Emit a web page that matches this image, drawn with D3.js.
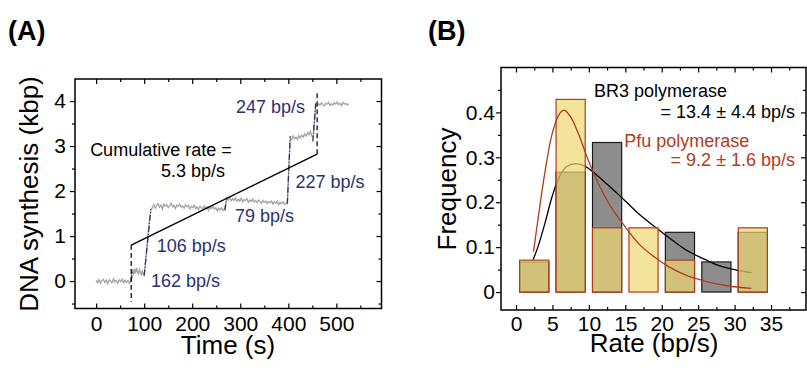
<!DOCTYPE html>
<html>
<head>
<meta charset="utf-8">
<script src="https://cdn.jsdelivr.net/npm/d3@7"></script>
<style>
  body { margin: 0; background: #fff; }
  svg { display: block; font-family: "Liberation Sans", Arial, sans-serif; }
</style>
</head>
<body>
<svg id="chart" width="807" height="370"></svg>
<script>
// ---------- Panel A data: single-molecule trace (time in s, DNA in kbp) ----------
const trace = [
  [0,0.02],[3,-0.04],[6,0.03],[9,-0.05],[12,0.01],[15,0.04],[18,-0.03],[21,0.02],[24,-0.06],[27,0.03],
  [30,0.00],[33,-0.04],[36,0.05],[39,-0.02],[42,0.01],[45,-0.05],[48,0.03],[51,-0.01],[54,0.04],[57,-0.04],
  [60,0.02],[63,-0.03],[66,0.01],[69,-0.05],[72,-0.01],[74,0.18],
  [76,0.24],[78,0.14],[80,0.27],[82,0.17],[84,0.30],[86,0.20],[88,0.16],[90,0.26],[92,0.19],[94,0.14],
  [96,0.22],[98,0.15],[100,0.13],[104,0.55],[108,1.05],[112,1.45],[114,1.58],
  [117,1.63],[120,1.70],[123,1.62],[126,1.68],[129,1.72],[132,1.64],[135,1.69],[138,1.60],[141,1.71],[144,1.66],
  [147,1.70],[150,1.63],[153,1.67],[156,1.73],[159,1.65],[162,1.68],[165,1.61],[168,1.69],[171,1.66],[174,1.71],
  [177,1.64],[180,1.67],[183,1.62],[186,1.70],[189,1.65],[192,1.68],[195,1.60],[198,1.66],[201,1.63],[204,1.69],
  [207,1.61],[210,1.65],[213,1.58],[216,1.66],[219,1.63],[222,1.60],[225,1.67],[228,1.62],[231,1.65],[234,1.57],
  [237,1.64],[240,1.61],[243,1.66],[246,1.60],[249,1.63],[252,1.56],[255,1.62],[258,1.58],[261,1.63],[264,1.57],
  [267,1.60],[270,1.72],[272,1.84],
  [275,1.80],[278,1.86],[281,1.78],[284,1.83],[287,1.79],[290,1.85],[293,1.77],[296,1.82],[299,1.78],[302,1.84],
  [305,1.76],[308,1.81],[311,1.79],[314,1.83],[317,1.75],[320,1.80],[323,1.77],[326,1.82],[329,1.76],[332,1.79],
  [335,1.74],[338,1.80],[341,1.77],[344,1.73],[347,1.79],[350,1.75],[353,1.78],[356,1.72],[359,1.77],[362,1.74],
  [365,1.78],[368,1.71],[371,1.76],[374,1.73],[377,1.77],[380,1.70],[383,1.75],[386,1.72],[389,1.76],[392,1.70],
  [395,1.73],[398,1.72],[401,2.50],[404,3.18],
  [407,3.14],[410,3.22],[413,3.16],[416,3.20],[419,3.15],[422,3.23],[425,3.18],[428,3.24],[431,3.20],[434,3.27],
  [437,3.22],[440,3.30],[443,3.25],[446,3.33],[449,3.22],[452,3.20],[455,3.60],[457,3.92],
  [460,3.88],[463,3.94],[466,3.91],[469,3.96],[472,3.92],[475,3.89],[478,3.95],[481,3.93],[484,3.97],[487,3.90],
  [490,3.94],[493,3.91],[496,3.96],[499,3.93],[502,3.98],[505,3.92],[508,3.95],[511,3.90],[514,3.97],[517,3.93],
  [520,3.95],[523,3.91],[526,3.94]
];
// fitted burst segments (start/end points) and their rate labels
const burstSegments = [
  [[73, 0.00], [76, 0.25]],
  [[100, 0.12], [114, 1.60]],
  [[268, 1.57], [272, 1.86]],
  [[398, 1.72], [404, 3.22]],
  [[451, 3.10], [457, 3.95]]
];
const burstLabels = [
  { text: "162 bp/s", t: 114, v: -0.14 },
  { text: "106 bp/s", t: 126, v: 0.65 },
  { text: "79 bp/s", t: 289, v: 1.32 },
  { text: "227 bp/s", t: 415, v: 2.07 },
  { text: "247 bp/s", t: 291, v: 3.73 }
];
const cumulativeLine = [[73, 0.80], [460, 2.82]];
const markerLines = [
  [[73, 0.80], [73, -0.46]],
  [[460, 2.82], [460, 4.24]]
];
const timeTicks = [0, 100, 200, 300, 400, 500];
const timeMinor = [50, 150, 250, 350, 450, 550];
const kbpTicks = [0, 1, 2, 3, 4];
const kbpMinor = [-0.5, 0.5, 1.5, 2.5, 3.5];

// ---------- Panel B data: rate histograms ----------
const binCenters = [2.5, 7.5, 12.5, 17.5, 22.5, 27.5, 32.5];
const br3Freq = [0.067, 0.267, 0.333, 0, 0.133, 0.067, 0.133];
const pfuFreq = [0.071, 0.429, 0.143, 0.143, 0.071, 0, 0.143];
// fitted distributions, points
const br3Fit = [
  [2.35,0.072],[3,0.10],[4,0.155],[5,0.215],[6,0.258],[7,0.28],[8.2,0.286],[9.5,0.28],[11,0.262],
  [12.5,0.24],[14,0.218],[15.5,0.195],[17,0.172],[19,0.146],[21,0.121],[23.4,0.093],[26,0.072],
  [28,0.058],[30,0.05],[32.3,0.043]
];
const pfuFit = [
  [2.4,0.09],[3,0.16],[4,0.27],[5,0.355],[6,0.398],[6.6,0.405],[7.5,0.39],[8.5,0.355],[10,0.29],
  [11.5,0.235],[13,0.19],[15,0.145],[17,0.105],[19,0.078],[21,0.056],[23.4,0.037],[26,0.024],
  [29,0.014],[32.3,0.008]
];
const rateTicks = [0, 5, 10, 15, 20, 25, 30, 35];
const rateMinor = [2.5, 7.5, 12.5, 17.5, 22.5, 27.5, 32.5, 37.5];
const freqTicks = [0, 0.1, 0.2, 0.3, 0.4];
const freqMinor = [0.05, 0.15, 0.25, 0.35, 0.45];

const navy = "#2b3270";
const brick = "#b03c1c";
const svg = d3.select("#chart");

function frameAxes(x, y, cfg) {
    const [x0, x1] = x.range();
    const [yb, yt] = y.range();
    const layer = svg.append("g");

    const bottom = layer.append("g").attr("transform", `translate(0,${yb})`);
    bottom.call(d3.axisBottom(x).tickValues(cfg.xTicks).tickSizeInner(-5).tickSizeOuter(0)
        .tickPadding(cfg.xPad).tickFormat(cfg.xFmt));
    layer.append("g").attr("transform", `translate(0,${yb})`)
        .call(d3.axisBottom(x).tickValues(cfg.xMinor).tickSize(-3).tickFormat(""));
    layer.append("g").attr("transform", `translate(0,${yt})`)
        .call(d3.axisTop(x).tickValues(cfg.xTicks).tickSize(-5).tickFormat(""));
    layer.append("g").attr("transform", `translate(0,${yt})`)
        .call(d3.axisTop(x).tickValues(cfg.xMinor).tickSize(-3).tickFormat(""));

    const left = layer.append("g").attr("transform", `translate(${x0},0)`);
    left.call(d3.axisLeft(y).tickValues(cfg.yTicks).tickSizeInner(5).tickSizeOuter(0)
        .tickPadding(cfg.yPad).tickFormat(cfg.yFmt));
    layer.append("g").attr("transform", `translate(${x0},0)`)
        .call(d3.axisLeft(y).tickValues(cfg.yMinor).tickSize(3).tickFormat(""));
    layer.append("g").attr("transform", `translate(${x1},0)`)
        .call(d3.axisRight(y).tickValues(cfg.yTicks).tickSize(-5).tickFormat(""));
    layer.append("g").attr("transform", `translate(${x1},0)`)
        .call(d3.axisRight(y).tickValues(cfg.yMinor).tickSize(-3).tickFormat(""));

    layer.selectAll(".domain").remove();
    layer.selectAll(".tick line").attr("stroke", "#000").attr("stroke-width", 1.2);
    layer.selectAll("g").attr("font-family", null).attr("font-size", null);
    layer.selectAll(".tick text").attr("font-size", 21).attr("fill", "#000");

    layer.append("rect")
        .attr("x", x0).attr("y", yt)
        .attr("width", x1 - x0).attr("height", yb - yt)
        .attr("fill", "none").attr("stroke", "#000").attr("stroke-width", 1.5);
}

function createTracePanel() {
    const x = d3.scaleLinear().domain([-44, 594]).range([75, 381.5]);
    const y = d3.scaleLinear().domain([-0.61, 4.49]).range([308.5, 79]);
    const g = svg.append("g");

    const line = d3.line().x(d => x(d[0])).y(d => y(d[1]));

    g.append("path").attr("d", line(trace))
        .attr("fill", "none").attr("stroke", "#a4a4a4").attr("stroke-width", 1.3);

    burstSegments.forEach(s => {
        g.append("path").attr("d", line(s))
            .attr("fill", "none").attr("stroke", navy).attr("stroke-width", 1.3)
            .attr("stroke-dasharray", "6,2,1,2");
    });

    markerLines.forEach(s => {
        g.append("path").attr("d", line(s))
            .attr("fill", "none").attr("stroke", "#000").attr("stroke-width", 1.2)
            .attr("stroke-dasharray", "5,3");
    });

    g.append("path").attr("d", line(cumulativeLine))
        .attr("fill", "none").attr("stroke", "#000").attr("stroke-width", 1.5);

    burstLabels.forEach(d => {
        g.append("text").attr("x", x(d.t)).attr("y", y(d.v))
            .attr("font-size", 18).attr("fill", navy).text(d.text);
    });
    g.append("text").attr("x", x(-12.5)).attr("y", y(2.78))
        .attr("font-size", 18).text("Cumulative rate =");
    g.append("text").attr("x", x(135)).attr("y", y(2.32))
        .attr("font-size", 18).text("5.3 bp/s");

    frameAxes(x, y, {
        xTicks: timeTicks, xMinor: timeMinor, xPad: 8, xFmt: d3.format("d"),
        yTicks: kbpTicks, yMinor: kbpMinor, yPad: 4, yFmt: d3.format("d")
    });

    svg.append("text").attr("x", 228).attr("y", 354).attr("text-anchor", "middle")
        .attr("font-size", 26).text("Time (s)");
    svg.append("text").attr("transform", "translate(37.5,194) rotate(-90)")
        .attr("text-anchor", "middle").attr("font-size", 26).text("DNA synthesis (kbp)");
    svg.append("text").attr("x", 8).attr("y", 40)
        .attr("font-size", 27).attr("font-weight", "bold").text("(A)");
}

function createHistogramPanel() {
    const x = d3.scaleLinear().domain([-2.06, 39.8]).range([501, 806]);
    const y = d3.scaleLinear().domain([-0.04, 0.5]).range([310, 67.5]);
    const g = svg.append("g");
    const half = 2;

    const curve = d3.line().x(d => x(d[0])).y(d => y(d[1])).curve(d3.curveCatmullRom);

    // BR3 bars
    binCenters.forEach((c, i) => {
        if (!br3Freq[i]) return;
        g.append("rect")
            .attr("x", x(c - half)).attr("y", y(br3Freq[i]))
            .attr("width", x(c + half) - x(c - half)).attr("height", y(0) - y(br3Freq[i]))
            .attr("fill", "#8d8d8d").attr("stroke", "#1a1a1a").attr("stroke-width", 1.2);
    });

    g.append("path").attr("d", curve(br3Fit))
        .attr("fill", "none").attr("stroke", "#000").attr("stroke-width", 1.3);

    // Pfu bars, translucent over BR3
    binCenters.forEach((c, i) => {
        if (!pfuFreq[i]) return;
        g.append("rect")
            .attr("x", x(c - half)).attr("y", y(pfuFreq[i]))
            .attr("width", x(c + half) - x(c - half)).attr("height", y(0) - y(pfuFreq[i]))
            .attr("fill", "#f0d870").attr("fill-opacity", 0.7)
            .attr("stroke", brick).attr("stroke-width", 1.2);
    });

    g.append("path").attr("d", curve(pfuFit))
        .attr("fill", "none").attr("stroke", brick).attr("stroke-width", 1.3);

    g.append("text").attr("x", x(10.7)).attr("y", y(0.435))
        .attr("font-size", 18).text("BR3 polymerase");
    g.append("text").attr("x", x(38.3)).attr("y", y(0.387)).attr("text-anchor", "end")
        .attr("font-size", 18).text("= 13.4 ± 4.4 bp/s");
    g.append("text").attr("x", x(14.86)).attr("y", y(0.324))
        .attr("font-size", 18).attr("fill", brick).text("Pfu polymerase");
    g.append("text").attr("x", x(38.3)).attr("y", y(0.281)).attr("text-anchor", "end")
        .attr("font-size", 18).attr("fill", brick).text("= 9.2 ± 1.6 bp/s");

    frameAxes(x, y, {
        xTicks: rateTicks, xMinor: rateMinor, xPad: 6, xFmt: d3.format("d"),
        yTicks: freqTicks, yMinor: freqMinor, yPad: 1,
        yFmt: d => d === 0 ? "0" : d3.format(".1f")(d)
    });

    svg.append("text").attr("x", 654).attr("y", 352).attr("text-anchor", "middle")
        .attr("font-size", 26).text("Rate (bp/s)");
    svg.append("text").attr("transform", "translate(456,189) rotate(-90)")
        .attr("text-anchor", "middle").attr("font-size", 26).text("Frequency");
    svg.append("text").attr("x", 428).attr("y", 40)
        .attr("font-size", 27).attr("font-weight", "bold").text("(B)");
}

createTracePanel();
createHistogramPanel();
</script>
</body>
</html>
